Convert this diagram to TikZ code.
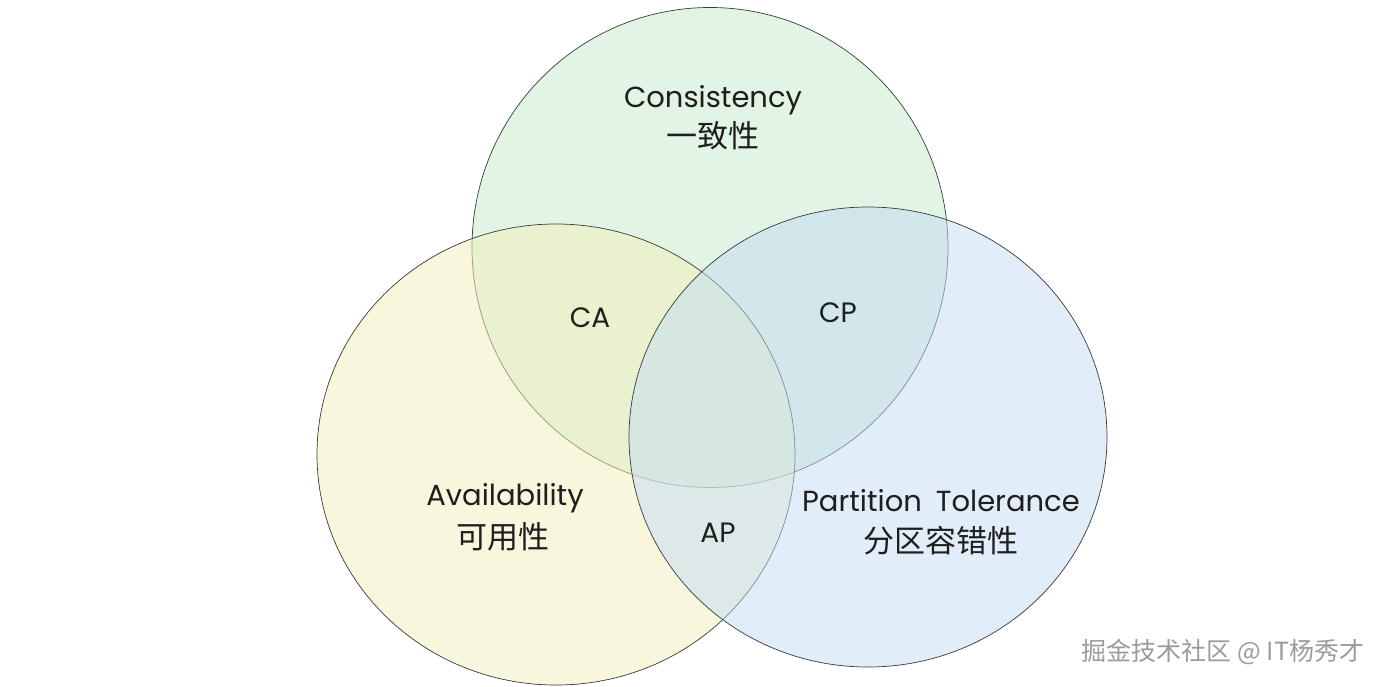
\documentclass[tikz,border=0pt]{standalone}
\usepackage{fontspec}
\setmainfont{Poppins}
\newfontfamily\cjk{Noto Sans CJK SC}
\definecolor{cgreen}{HTML}{C6EBC9}
\definecolor{cyellow}{HTML}{F3F0BC}
\definecolor{cblue}{HTML}{C4DCF3}
\definecolor{lineclr}{HTML}{3A3A3A}
\definecolor{wm}{HTML}{9C9C9C}
\definecolor{ink}{HTML}{1E1E1E}
\begin{document}
\begin{tikzpicture}[x=1pt,y=-1pt,
  setc/.style={draw=lineclr, line width=0.7pt, fill opacity=0.5},
  lbl/.style={font=\fontsize{29}{31}\selectfont, text=ink, align=center},
  cjklbl/.style={font=\cjk\fontsize{31}{33}\selectfont, text=ink},
  region/.style={font=\fontsize{28}{30}\selectfont, text=ink}]
\useasboundingbox[fill=white] (0,0) rectangle (1386,686);
\begin{scope}
\clip (0,0) rectangle (1386,686);
\path[setc, fill=cgreen] (710,247.5) ellipse [x radius=238, y radius=240];
\path[setc, fill=cyellow] (556,454.5) ellipse [x radius=239, y radius=230.5];
\path[setc, fill=cblue] (868,437) ellipse [x radius=239, y radius=230];
\end{scope}
\node[lbl] (cons) at (713,100) {Consistency};
\node[cjklbl] (consz) at (713,136) {一致性};
\node[lbl] (avail) at (505,498) {Availability};
\node[cjklbl] (availz) at (503,537) {可用性};
\node[lbl] (part) at (941,501) {Partition\hspace{14pt}Tolerance};
\node[cjklbl] (partz) at (941,541) {分区容错性};
\node[region] (ca) at (590,318) {CA};
\node[region] (cp) at (838,313) {CP};
\node[region] (ap) at (718,533) {AP};
\node[font=\cjk\fontsize{25}{27}\selectfont, text=wm] (wmk) at (1223,652) {掘金技术社区 @ IT杨秀才};
\end{tikzpicture}
\end{document}
